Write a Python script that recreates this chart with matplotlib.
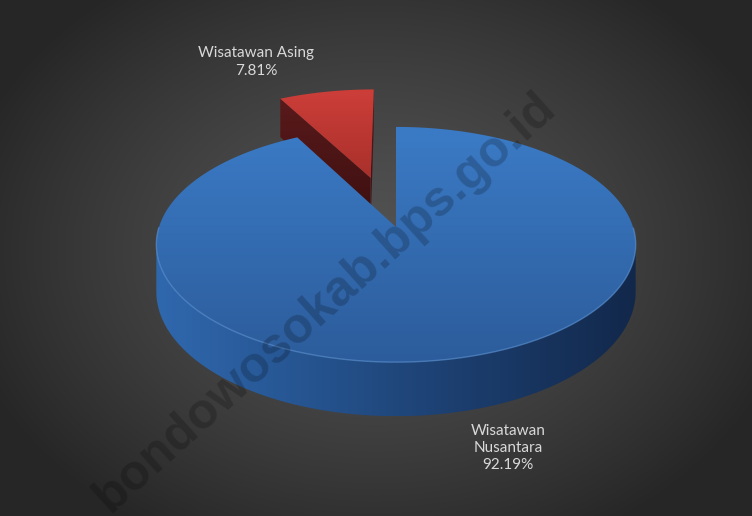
import numpy as np
import matplotlib
matplotlib.use("Agg")
from matplotlib import pyplot as plt
from matplotlib.patches import Polygon
from matplotlib.colors import LinearSegmentedColormap

# data
kategori = ["Wisatawan Nusantara", "Wisatawan Asing"]
label_teks = ["Wisatawan\nNusantara\n92.19%", "Wisatawan Asing\n7.81%"]
persen = [92.19, 7.81]
ledakan = [0.0, 0.47]

# warna tiap irisan: (atas terang, atas gelap, dinding terang, dinding gelap)
warna_atas = [("#3b7bc6", "#2c5c9b"), ("#cd3e39", "#a9302b")]
warna_dinding = [["#3068ae", "#25538e", "#1b3c6b", "#12284b"], ["#5a1a1b", "#3c0f10"]]

# posisi label (pixel)
label_xy = [(508, 448), (256, 62)]

W, H = 752, 516
CX, CY = 396, 227          # pusat pie
RX, RY = 237, 115          # jari-jari elips
PERSP = 0.149              # efek perspektif
TEBAL = 46                 # tebal pie


def proyeksi(u, v, turun=0.0):
    w = 1 + PERSP * v
    return CX + RX * u / w, CY - (RY * v - TEBAL * turun) / w


def isi_gradien(ax, titik, warna, arah="v", z=2):
    poly = Polygon(titik, closed=True, facecolor="none", edgecolor="none", zorder=z)
    ax.add_patch(poly)
    xs, ys = titik[:, 0], titik[:, 1]
    x0, x1, y0, y1 = xs.min(), xs.max(), ys.min(), ys.max()
    cmap = LinearSegmentedColormap.from_list("g", warna)
    g = np.linspace(0, 1, 256)
    arr = g[None, :] if arah == "h" else g[:, None]
    im = ax.imshow(arr, cmap=cmap, extent=(x0, x1, y1, y0), aspect="auto",
                   interpolation="bilinear", zorder=z)
    im.set_clip_path(poly)
    return poly


fig = plt.figure(figsize=(W / 100, H / 100), dpi=100)
ax = fig.add_axes([0, 0, 1, 1])
ax.set_xlim(0, W)
ax.set_ylim(H, 0)
ax.axis("off")

# latar belakang gradien radial
yy, xx = np.mgrid[0:H, 0:W]
r = np.sqrt(((xx - 376) / 430.0) ** 2 + ((yy - 250) / 330.0) ** 2)
r = np.clip(r, 0, 1) ** 1.4
c_tengah, c_tepi = 0x52, 0x26
bg = (c_tengah + (c_tepi - c_tengah) * r) / 255.0
ax.imshow(np.dstack([bg, bg, bg]), extent=(0, W, H, 0), aspect="auto", zorder=0)

# sudut irisan (mulai jam 12, searah jarum jam)
frac = np.array(persen) / np.sum(persen)
batas = 90 - 360 * np.concatenate([[0], np.cumsum(frac)])

urutan = [1, 0]  # irisan yang meledak digambar dulu (di belakang)
for i in urutan:
    a0, a1 = np.radians(batas[i]), np.radians(batas[i + 1])
    tengah = (a0 + a1) / 2
    ou, ov = ledakan[i] * np.cos(tengah), ledakan[i] * np.sin(tengah)
    ang = np.linspace(a0, a1, 400)
    au, av = ou + np.cos(ang), ov + np.sin(ang)

    # dinding radial (hanya untuk irisan kecil)
    if ledakan[i] > 0:
        for a in (a1, a0):
            pu, pv = ou + np.cos(a), ov + np.sin(a)
            p = np.array([proyeksi(ou, ov), proyeksi(pu, pv),
                          proyeksi(pu, pv, 1), proyeksi(ou, ov, 1)])
            isi_gradien(ax, p, warna_dinding[i], "v", z=2)
    else:
        # dinding luar bagian depan
        m = np.sin(ang) < -PERSP
        su, sv = au[m], av[m]
        atas = np.array([proyeksi(u, v) for u, v in zip(su, sv)])
        bawah = np.array([proyeksi(u, v, 1) for u, v in zip(su, sv)])
        sisi = np.vstack([atas, bawah[::-1]])
        isi_gradien(ax, sisi, warna_dinding[i], "h", z=3)

    # permukaan atas
    atas = np.array([proyeksi(ou, ov)] + [proyeksi(u, v) for u, v in zip(au, av)])
    isi_gradien(ax, atas, warna_atas[i], "v", z=4 if ledakan[i] == 0 else 2.5)

    if ledakan[i] == 0:
        m = np.sin(ang) < 0
        tepi = np.array([proyeksi(u, v) for u, v in zip(au[m], av[m])])
        ax.plot(tepi[:, 0], tepi[:, 1], color="#5c95d8", lw=1.0, alpha=0.6, zorder=5)

# label data
for (x, y), t in zip(label_xy, label_teks):
    ax.text(x, y, t, ha="center", va="center", fontsize=11, color="#d9d9d9",
            family=["Lato", "DejaVu Sans"], linespacing=1.3, zorder=6)

# watermark
ax.text(325, 302, "bondowosokab.bps.go.id", rotation=42, rotation_mode="anchor",
        ha="center", va="center", fontsize=36, fontweight="bold",
        family=["Liberation Sans", "DejaVu Sans"], color="black", alpha=0.2, zorder=7)

fig.savefig("out.png", dpi=100)
